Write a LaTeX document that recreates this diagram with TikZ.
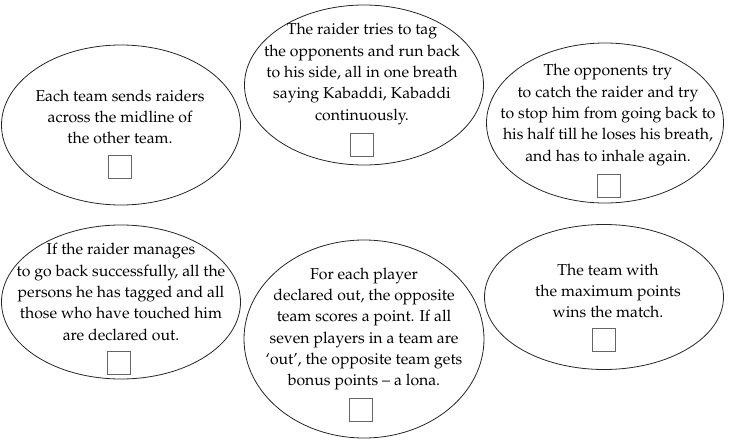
\documentclass[tikz,border=0pt]{standalone}
\usepackage[T1]{fontenc}
\usepackage{mathpazo}
\usetikzlibrary{shapes.geometric}
\tikzset{
  oval/.style={draw=black!85, line width=0.8pt, ellipse, inner sep=0pt},
  txt/.style={align=center, inner sep=0pt, font=\fontsize{15.8}{21.3}\selectfont},
  tick/.style={draw=black!60, line width=0.7pt, minimum width=23pt, minimum height=23pt, inner sep=0pt}
}
\begin{document}
\begin{tikzpicture}[x=1pt,y=-1pt]
\useasboundingbox (0,0) rectangle (732,442);
% ellipses
\node[oval, minimum width=239pt, minimum height=160pt] (e1) at (121,125) {};
\node[oval, minimum width=239pt, minimum height=160pt] (e2) at (364,85) {};
\node[oval, minimum width=237pt, minimum height=160pt] (e3) at (605,123) {};
\node[oval, minimum width=239pt, minimum height=154pt] (e4) at (121,302) {};
\node[oval, minimum width=240pt, minimum height=198pt] (e5) at (364,339) {};
\node[oval, minimum width=239pt, minimum height=145pt] (e6) at (604,297) {};
% texts
\node[txt] (t1) at (120,117) {Each team sends raiders\\across the midline of\\the other team.};
\node[txt] (t2) at (362,74) {The raider tries to tag\\the opponents and run back\\to his side, all in one breath\\saying Kabaddi, Kabaddi\\continuously.};
\node[txt] (t3) at (608,115) {The opponents try\\to catch the raider and try\\to stop him from going back to\\his half till he loses his breath,\\and has to inhale again.};
\node[txt] (t4) at (121,292) {If the raider manages\\to go back successfully, all the\\persons he has tagged and all\\those who have touched him\\are declared out.};
\node[txt] (t5) at (364,329) {For each player\\declared out, the opposite\\team scores a point. If all\\seven players in a team are\\`out', the opposite team gets\\bonus points -- a lona.};
\node[txt] (t6) at (608,291) {The team with\\the maximum points\\wins the match.};
% answer boxes
\node[tick] (b1) at (120,167) {};
\node[tick] (b2) at (362,145) {};
\node[tick] (b3) at (609,186) {};
\node[tick] (b4) at (119,363) {};
\node[tick] (b5) at (361,410) {};
\node[tick] (b6) at (604,340) {};
\end{tikzpicture}
\end{document}
